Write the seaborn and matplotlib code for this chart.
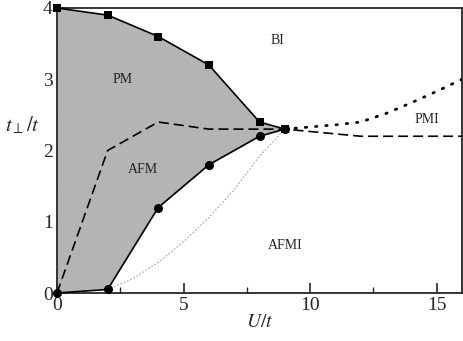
import numpy as np
import seaborn as sns
import matplotlib.pyplot as plt

# phase boundaries
u_top = [0, 2, 4, 6, 8, 9]
t_top = [4.0, 3.9, 3.6, 3.2, 2.4, 2.3]
u_bot = [0, 2, 4, 6, 8, 9]
t_bot = [0.0, 0.05, 1.2, 1.8, 2.2, 2.3]
u_dash = [0, 2, 4, 6, 8, 9, 12, 16]
t_dash = [0.0, 2.0, 2.4, 2.3, 2.3, 2.3, 2.2, 2.2]
u_pmi = [9, 10, 11, 12, 13, 14, 15, 16]
t_pmi = [2.3, 2.33, 2.36, 2.4, 2.52, 2.67, 2.83, 3.0]
u_thin = [2, 3, 4, 5, 6, 7, 8, 9]
t_thin = [0.05, 0.2, 0.43, 0.72, 1.06, 1.45, 1.92, 2.3]

labels = ['PM', 'BI', 'AFM', 'AFMI', 'PMI']
label_u = [2.6, 8.7, 3.4, 9.0, 14.6]
label_t = [3.0, 3.55, 1.73, 0.67, 2.43]

sns.set_style('ticks')
plt.rcParams['font.family'] = ['Liberation Serif', 'DejaVu Serif']
plt.rcParams['mathtext.fontset'] = 'stix'

fig = plt.figure(figsize=(4.63, 3.41), dpi=100)
ax = fig.add_axes([57/463, 48/341, 405/463, 285/341])

ax.fill_between(u_top, t_bot, t_top, color='#b4b4b4', lw=0, zorder=1)
sns.lineplot(x=u_top, y=t_top, sort=False, estimator=None, color='black', lw=1.2,
             marker='s', markersize=5.5, markeredgewidth=0, clip_on=False, ax=ax, zorder=5)
sns.lineplot(x=u_bot, y=t_bot, sort=False, estimator=None, color='black', lw=1.2,
             marker='o', markersize=6.5, markeredgewidth=0, clip_on=False, ax=ax, zorder=5)
sns.lineplot(x=u_dash, y=t_dash, sort=False, estimator=None, color='black', lw=1.2,
             ax=ax, zorder=4).lines[-1].set_dashes([6, 3])
sns.lineplot(x=u_pmi, y=t_pmi, sort=False, estimator=None, color='black', lw=2.0,
             ax=ax, zorder=4).lines[-1].set_dashes([0.5, 3.2])
sns.lineplot(x=u_thin, y=t_thin, sort=False, estimator=None, color='#a8a8a8', lw=0.8,
             ax=ax, zorder=3).lines[-1].set_dashes([1, 2.2])
for ln in ax.lines[3:]:
    ln.set_dash_capstyle('round')

for s, x, y in zip(labels, label_u, label_t):
    ax.text(x, y, s, fontsize=10, ha='center', va='center', color='#222222')

ax.set_xlim(0, 16)
ax.set_ylim(0, 4)
ax.set_xticks([0, 5, 10, 15])
ax.set_xticks([2.5, 7.5, 12.5], minor=True)
ax.set_yticks([0, 1, 2, 3, 4])
ax.set_yticks([0.5, 1.5, 2.5, 3.5], minor=True)
ax.tick_params(direction='in', labelsize=14, width=1.2, length=7, pad=3)
ax.tick_params(which='minor', direction='in', width=1.0, length=4)
for sp in ax.spines.values():
    sp.set_linewidth(1.3)

ax.set_xlabel(r'$U/t$', fontsize=14, labelpad=0)
ax.set_ylabel(r'$t_{\perp}/t$', fontsize=15, rotation=0)
ax.yaxis.set_label_coords(-0.085, 0.55)

fig.savefig('out.png', dpi=100)
